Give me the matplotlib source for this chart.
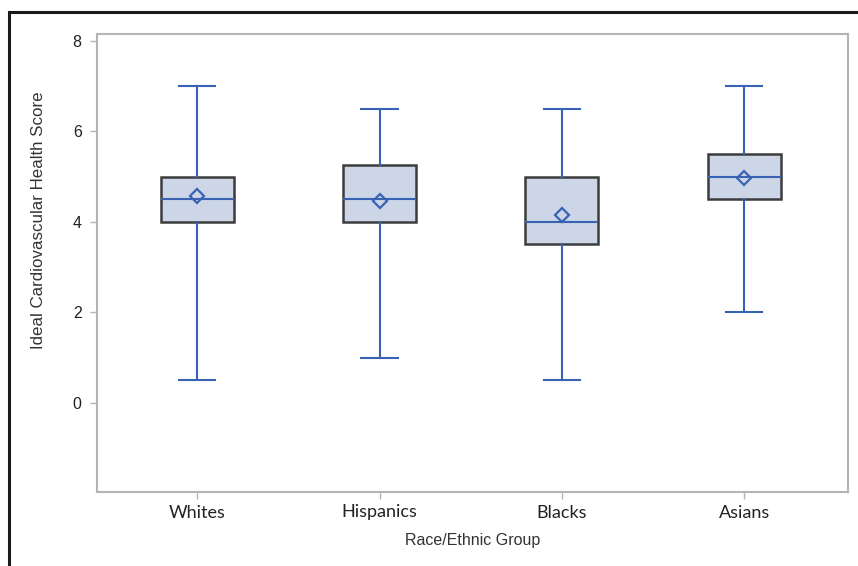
import matplotlib
matplotlib.use('Agg')
import matplotlib.pyplot as plt
from matplotlib.patches import Rectangle

groups = ['Whites', 'Hispanics', 'Blacks', 'Asians']
whisker_low = [0.5, 1.0, 0.5, 2.0]
q1 = [4.0, 4.0, 3.5, 4.5]
medians = [4.5, 4.5, 4.0, 5.0]
q3 = [5.0, 5.25, 5.0, 5.5]
whisker_high = [7.0, 6.5, 6.5, 7.0]
means = [4.56, 4.47, 4.15, 4.97]
y_ticks = [0, 2, 4, 6, 8]

blue = '#3a62b4'
fill = '#ccd6e6'

stats = []
for i, g in enumerate(groups):
    stats.append(dict(label=g, whislo=whisker_low[i], q1=q1[i], med=medians[i],
                      q3=q3[i], whishi=whisker_high[i], mean=means[i], fliers=[]))

fig = plt.figure(figsize=(8.58, 5.66), dpi=100)
ax = fig.add_axes([97 / 858, 1 - 492 / 566, 751 / 858, 458 / 566])

ax.bxp(stats, positions=range(len(groups)), widths=0.4, patch_artist=True,
       showmeans=True, showfliers=False,
       boxprops=dict(facecolor=fill, edgecolor='#3c3c3c', linewidth=1.8),
       whiskerprops=dict(color=blue, linewidth=1.5),
       capprops=dict(color=blue, linewidth=1.5),
       medianprops=dict(color=blue, linewidth=1.5),
       meanprops=dict(marker='D', markerfacecolor='none', markeredgecolor=blue,
                      markeredgewidth=1.6, markersize=7.5),
       capwidths=0.2)

ax.set_xlim(-0.55, 3.57)
ax.set_ylim(-1.97, 8.15)
ax.set_yticks(y_ticks)
ax.set_yticklabels([str(t) for t in y_ticks], fontsize=11.5, family='Liberation Sans', color='#222222')
ax.set_xticks(range(len(groups)))
ax.set_xticklabels(groups, fontsize=13, family='Lato', color='#222222')

for s in ax.spines.values():
    s.set_color('#b4b4b4')
    s.set_linewidth(1.5)
ax.tick_params(axis='both', color='#b4b4b4', length=5, width=1)
ax.tick_params(axis='y', pad=6)
ax.tick_params(axis='x', pad=4)

ax.set_xlabel('Race/Ethnic Group', fontsize=11.5, family='Liberation Sans', color='#333333', labelpad=9)
ax.set_ylabel('Ideal Cardiovascular Health Score', fontsize=12.2, family='Liberation Sans', color='#333333')
ax.yaxis.set_label_coords(-0.068, 0.594)

# outer black frame, runs off the right and bottom edges
fig.add_artist(Rectangle((9 / 858, -0.1), 1.2, 1 - 12 / 566 + 0.1, transform=fig.transFigure,
                         fill=False, edgecolor='#1a1a1a', linewidth=2.2))

fig.savefig('out.png', dpi=100)
